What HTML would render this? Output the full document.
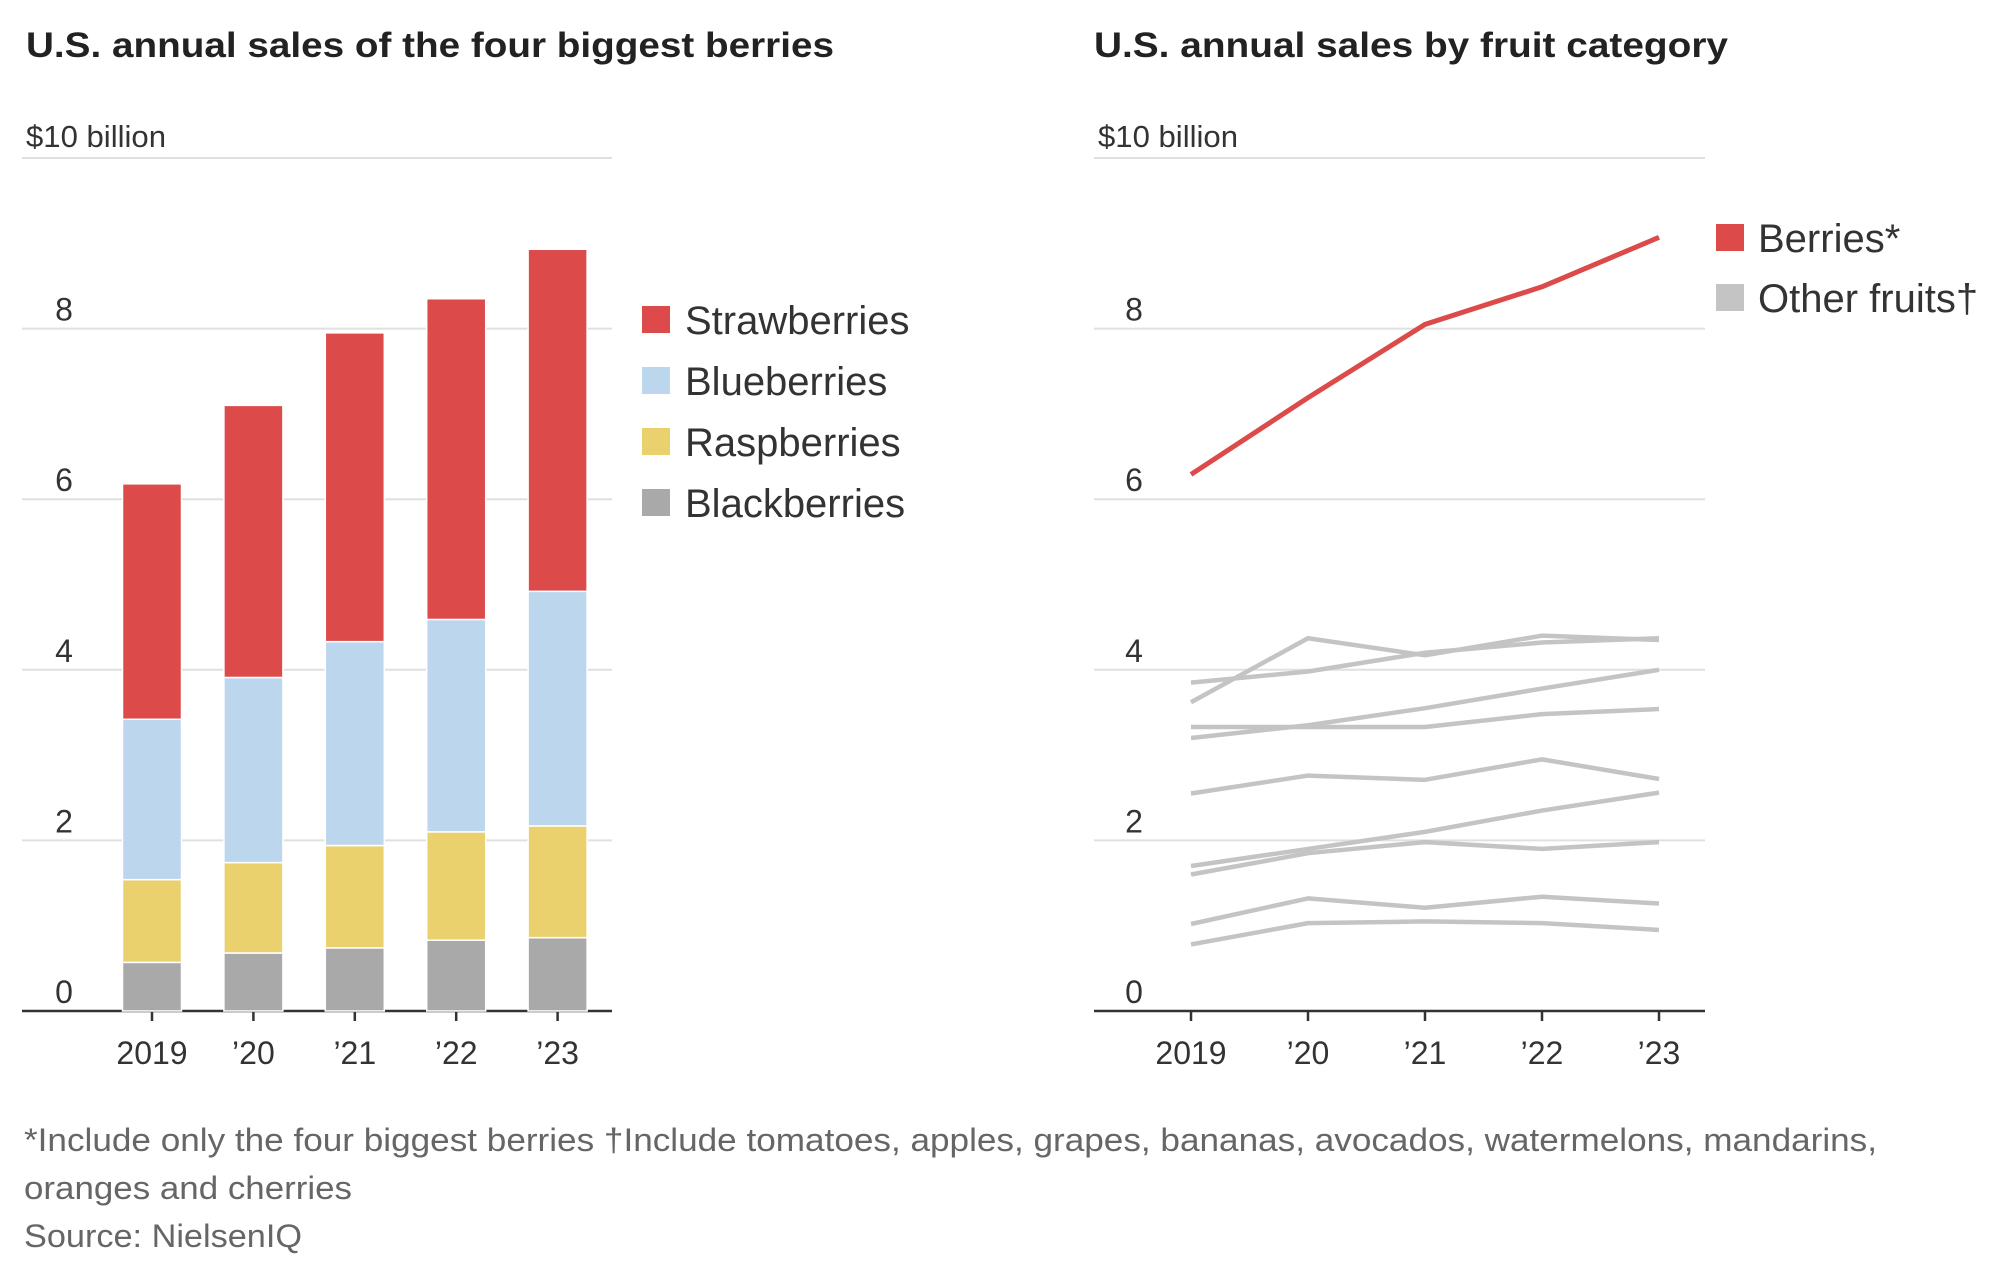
<!DOCTYPE html>
<html><head><meta charset="utf-8"><style>
html,body{margin:0;padding:0;background:#fff;}
svg{display:block;font-family:"Liberation Sans",sans-serif;}
</style></head><body>
<svg id="c" width="2000" height="1263" viewBox="0 0 2000 1263" xmlns="http://www.w3.org/2000/svg">
<text x="26" y="57" font-size="35" font-weight="bold" fill="#222" textLength="808" lengthAdjust="spacingAndGlyphs">U.S. annual sales of the four biggest berries</text>
<text x="1094" y="57" font-size="35" font-weight="bold" fill="#222" textLength="634" lengthAdjust="spacingAndGlyphs">U.S. annual sales by fruit category</text>
<g id="left"></g>
<g id="right"></g>
<text x="24" y="1151" font-size="32" fill="#666" textLength="1853" lengthAdjust="spacingAndGlyphs">*Include only the four biggest berries   †Include tomatoes, apples, grapes, bananas, avocados, watermelons, mandarins,</text>
<text x="24" y="1199" font-size="32" fill="#666" textLength="328" lengthAdjust="spacingAndGlyphs">oranges and cherries</text>
<text x="24" y="1247" font-size="32" fill="#666" textLength="278" lengthAdjust="spacingAndGlyphs">Source: NielsenIQ</text>
</svg>
<script>
const years = ["2019","’20","’21","’22","’23"];
const yTicks = [0,2,4,6,8];
const blackberries = [0.57,0.68,0.74,0.83,0.86];
const raspberries = [0.97,1.06,1.20,1.27,1.31];
const blueberries = [1.88,2.17,2.39,2.49,2.75];
const strawberries = [2.76,3.19,3.62,3.76,4.01];
const berriesTotal = [6.29,7.19,8.05,8.49,9.07];
const fruitA = [3.62,4.37,4.17,4.40,4.35];
const fruitB = [3.85,3.98,4.20,4.32,4.37];
const fruitC = [3.20,3.35,3.55,3.78,4.00];
const fruitD = [3.33,3.33,3.33,3.48,3.54];
const fruitE = [2.55,2.76,2.71,2.95,2.72];
const fruitF = [1.70,1.90,2.10,2.35,2.56];
const fruitG = [1.60,1.85,1.98,1.90,1.98];
const fruitH = [1.02,1.32,1.21,1.34,1.26];
const fruitI = [0.78,1.03,1.05,1.03,0.95];

const NS="http://www.w3.org/2000/svg";
function mk(parent,tag,attrs,text){const e=document.createElementNS(NS,tag);for(const k in attrs)e.setAttribute(k,attrs[k]);if(text!==undefined)e.textContent=text;parent.appendChild(e);return e;}
const Y0=1011, UNIT=85.3;
const y=v=>Y0-v*UNIT;

function axes(g,x0,x1,labelX,xs,prefix){
  const t=mk(g,'text',{x:x0+4,y:147,'font-size':31,fill:'#333',textLength:140,lengthAdjust:'spacingAndGlyphs'},'$10 billion');
  
  
  const gl=mk(g,'line',{x1:x0,x2:x1,y1:y(10),y2:y(10),stroke:'#e0e0e0','stroke-width':2});
  
  
  yTicks.forEach(v=>{
    if(v>0){const l=mk(g,'line',{x1:x0,x2:x1,y1:y(v),y2:y(v),stroke:'#e0e0e0','stroke-width':2});
      
      }
    const tx=mk(g,'text',{x:labelX+12,y:y(v)-8,'font-size':32,fill:'#333','text-anchor':'middle'},String(v));
    
    
  });
  const b=mk(g,'line',{x1:x0,x2:x1,y1:Y0,y2:Y0,stroke:'#333','stroke-width':2.5});
  
  
  years.forEach((yr,i)=>{
    const tk=mk(g,'line',{x1:xs(i),x2:xs(i),y1:Y0,y2:Y0+10,stroke:'#333','stroke-width':2.5});
    
    
    const tl=mk(g,'text',{x:xs(i),y:1064,'font-size':32,fill:'#333','text-anchor':'middle'},yr);
    
    
  });
}

// left chart
const L=document.getElementById('left');
const lx=i=>152+i*101.4;
axes(L,22,612,52,lx,'left');
const series=[["blackberries",blackberries,"#a9a9a9"],["raspberries",raspberries,"#ebd06e"],["blueberries",blueberries,"#bcd6ee"],["strawberries",strawberries,"#dc4a4a"]];
years.forEach((yr,i)=>{
  let base=0;
  series.forEach(([nm,arr,col])=>{
    const v=arr[i];
    const r=mk(L,'rect',{x:lx(i)-29.5,y:y(base+v),width:59,height:v*UNIT,fill:col,stroke:'#fff','stroke-width':1.5});
    
    
    base+=v;
  });
});
const legL=[["Strawberries","#dc4a4a"],["Blueberries","#bcd6ee"],["Raspberries","#ebd06e"],["Blackberries","#a9a9a9"]];
legL.forEach(([t,c],i)=>{
  const cy=320+i*61;
  const s=mk(L,'rect',{x:642,y:cy-14,width:28,height:27,fill:c});
  
  
  const tx=mk(L,'text',{x:685,y:cy+14,'font-size':40,fill:'#333'},t);
  
  
});

// right chart
const R=document.getElementById('right');
const rx=i=>1191+i*117;
axes(R,1094,1705,1122,rx,'right');
const others=[fruitA,fruitB,fruitC,fruitD,fruitE,fruitF,fruitG,fruitH,fruitI];
others.forEach((arr,k)=>{
  const p=mk(R,'polyline',{points:arr.map((v,i)=>rx(i)+','+y(v)).join(' '),fill:'none',stroke:'#c4c4c4','stroke-width':4.5,'stroke-linejoin':'round'});
  
  
});
const bl=mk(R,'polyline',{points:berriesTotal.map((v,i)=>rx(i)+','+y(v)).join(' '),fill:'none',stroke:'#dc4a4a','stroke-width':5,'stroke-linejoin':'round'});


const legR=[["Berries*","#dc4a4a"],["Other fruits†","#c4c4c4"]];
legR.forEach(([t,c],i)=>{
  const cy=238+i*60;
  const s=mk(R,'rect',{x:1716,y:cy-14,width:28,height:27,fill:c});
  
  
  const tx=mk(R,'text',{x:1758,y:cy+14,'font-size':40,fill:'#333'},t);
  
  
});
</script>
</body></html>
